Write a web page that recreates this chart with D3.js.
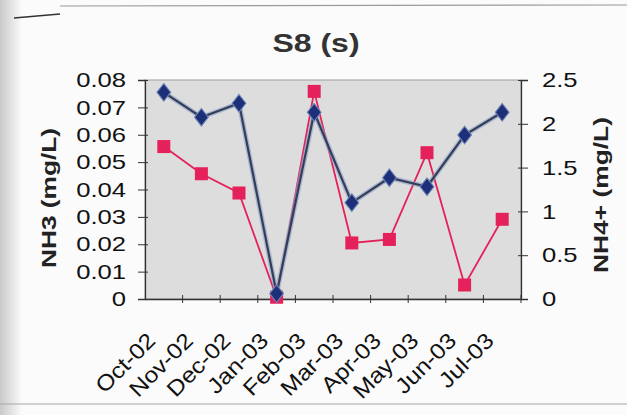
<!DOCTYPE html>
<html><head><meta charset="utf-8">
<script src="https://cdn.jsdelivr.net/npm/d3@7/dist/d3.min.js"></script>
<style>
html,body{margin:0;padding:0;background:#fbfbfb;}
svg{display:block;font-family:"Liberation Sans",Arial,sans-serif;}
</style></head>
<body>
<svg id="c" width="627" height="415"></svg>
<script>
const categories = ["Oct-02","Nov-02","Dec-02","Jan-03","Feb-03","Mar-03","Apr-03","May-03","Jun-03","Jul-03"];
const nh3Values  = [0.0755,0.0664,0.0715,0.002,0.0682,0.0352,0.0443,0.041,0.0599,0.0682];
const nh4Values  = [1.74,1.43,1.21,0.02,2.37,0.64,0.68,1.67,0.16,0.91];
const leftTicks  = [0,0.01,0.02,0.03,0.04,0.05,0.06,0.07,0.08];
const rightTicks = [0,0.5,1,1.5,2,2.5];
const leftTickLabels  = ["0","0.01","0.02","0.03","0.04","0.05","0.06","0.07","0.08"];
const rightTickLabels = ["0","0.5","1","1.5","2","2.5"];
const titleText = "S8 (s)";
const leftTitle = "NH3 (mg/L)";
const rightTitle = "NH4+ (mg/L)";

const svg = d3.select("#c");
const L = 145, R = 521, T = 80, B = 299;

// scan-like frame
const defs = svg.append("defs");
const g1 = defs.append("linearGradient").attr("id","shade").attr("x1",0).attr("x2",1);
g1.append("stop").attr("offset",0).attr("stop-color","#c9c9c9");
g1.append("stop").attr("offset",1).attr("stop-color","#fbfbfb");
svg.append("rect").attr("x",0).attr("y",0).attr("width",22).attr("height",415).attr("fill","url(#shade)");
svg.append("line").attr("x1",60).attr("x2",627).attr("y1",6).attr("y2",5).attr("stroke","#9a9a9a").attr("stroke-width",1.2);
svg.append("line").attr("x1",14).attr("x2",60).attr("y1",18).attr("y2",14).attr("stroke","#333").attr("stroke-width",1.5);
svg.append("line").attr("x1",0).attr("x2",627).attr("y1",404).attr("y2",404).attr("stroke","#a8a8a8").attr("stroke-width",1.2);

const x = d3.scaleBand().domain(categories).range([L, R]).padding(0);
const cx = d => x(d) + x.bandwidth()/2;
const yL = d3.scaleLinear().domain([0,0.08]).range([B, T]);
const yR = d3.scaleLinear().domain([0,2.5]).range([B, T]);

// plot area
svg.append("rect").attr("x",L).attr("y",T).attr("width",R-L).attr("height",B-T)
  .attr("fill","#dddddd").attr("stroke","#a0a0a0").attr("stroke-width",1);

// left axis
const ax = svg.append("g").attr("transform",`translate(${L},0)`)
  .call(d3.axisLeft(yL).tickValues(leftTicks).tickSize(7).tickPadding(12)
    .tickFormat((d,i)=>leftTickLabels[i]));
ax.selectAll(".tick line").attr("x1",3);
ax.selectAll("text").attr("class","stretch").attr("data-f",1.22);

// right axis
const axr = svg.append("g").attr("transform",`translate(${R},0)`)
  .call(d3.axisRight(yR).tickValues(rightTicks).tickSize(7).tickPadding(14)
    .tickFormat((d,i)=>rightTickLabels[i]));
axr.selectAll(".tick line").attr("x1",-3);
axr.selectAll("text").attr("class","stretch").attr("data-f",1.22);

// bottom axis
const bounds = categories.map(c => x(c)).concat([R]).slice(1);
const axb = svg.append("g").attr("transform",`translate(0,${B})`)
  .call(d3.axisBottom(x).tickValues([]).tickSizeOuter(0));
axb.selectAll(".boundtick").data(bounds).enter().append("line")
  .attr("x1",d=>d).attr("x2",d=>d).attr("y1",-4).attr("y2",4).attr("stroke","#333");
axb.selectAll(".xl").data(categories).enter().append("text")
  .attr("class","stretch").attr("data-f",1.12)
  .attr("text-anchor","end")
  .attr("transform",d=>`translate(${cx(d)-7},${43}) rotate(-45)`)
  .attr("fill","#111").attr("font-size",22).text(d=>d);

[ax,axr,axb].forEach(a=>{
  a.selectAll(".domain").attr("stroke","#333").attr("stroke-width",1.3);
  a.selectAll(".tick line").attr("stroke","#333");
  a.selectAll(".tick text").attr("font-size",21).attr("fill","#111").attr("font-family","Liberation Sans, Arial, sans-serif");
});

// series: NH4+ (pink, right axis)
const pink = "#e4215a";
svg.append("path").datum(nh4Values)
  .attr("d", d3.line().x((d,i)=>cx(categories[i])).y(d=>yR(d)))
  .attr("fill","none").attr("stroke",pink).attr("stroke-width",1.8);
svg.selectAll(".sq").data(nh4Values).enter().append("rect")
  .attr("x",(d,i)=>cx(categories[i])-6.5).attr("y",d=>yR(d)-6.5)
  .attr("width",13).attr("height",13).attr("fill",pink);

// series: NH3 (blue, left axis)
const navy = "#1d2f78";
svg.append("path").datum(nh3Values)
  .attr("d", d3.line().x((d,i)=>cx(categories[i])).y(d=>yL(d)))
  .attr("fill","none").attr("stroke","#8aa0c8").attr("stroke-width",5).attr("opacity",0.6);
svg.append("path").datum(nh3Values)
  .attr("d", d3.line().x((d,i)=>cx(categories[i])).y(d=>yL(d)))
  .attr("fill","none").attr("stroke","#343e58").attr("stroke-width",2.2);
svg.selectAll(".dm2").data(nh3Values).enter().append("path")
  .attr("d", d3.symbol().type(d3.symbolDiamond).size(125))
  .attr("transform",(d,i)=>`translate(${cx(categories[i])},${yL(d)}) scale(1.15,0.85)`)
  .attr("fill",navy).attr("stroke","#6f86b8").attr("stroke-width",1);

// titles
svg.append("text").attr("class","stretch").attr("data-f",1.28)
  .attr("x",316).attr("y",52).attr("text-anchor","middle")
  .attr("font-size",25).attr("font-weight","bold").attr("fill","#333").text(titleText);
svg.append("text").attr("text-anchor","middle")
  .attr("transform","translate(56,198) rotate(-90)")
  .attr("font-size",20).attr("font-weight","bold").attr("fill","#222")
  .attr("textLength",140).attr("lengthAdjust","spacingAndGlyphs").text(leftTitle);
svg.append("text").attr("text-anchor","middle")
  .attr("transform","translate(608,195) rotate(-90)")
  .attr("font-size",20).attr("font-weight","bold").attr("fill","#222")
  .attr("textLength",156).attr("lengthAdjust","spacingAndGlyphs").text(rightTitle);

// horizontal stretch to imitate the scan's wide lettering
svg.selectAll("text.stretch").each(function(){
  const f = +this.getAttribute("data-f");
  const w = this.getComputedTextLength();
  d3.select(this).attr("textLength", w*f).attr("lengthAdjust","spacingAndGlyphs");
});
</script>
</body></html>
